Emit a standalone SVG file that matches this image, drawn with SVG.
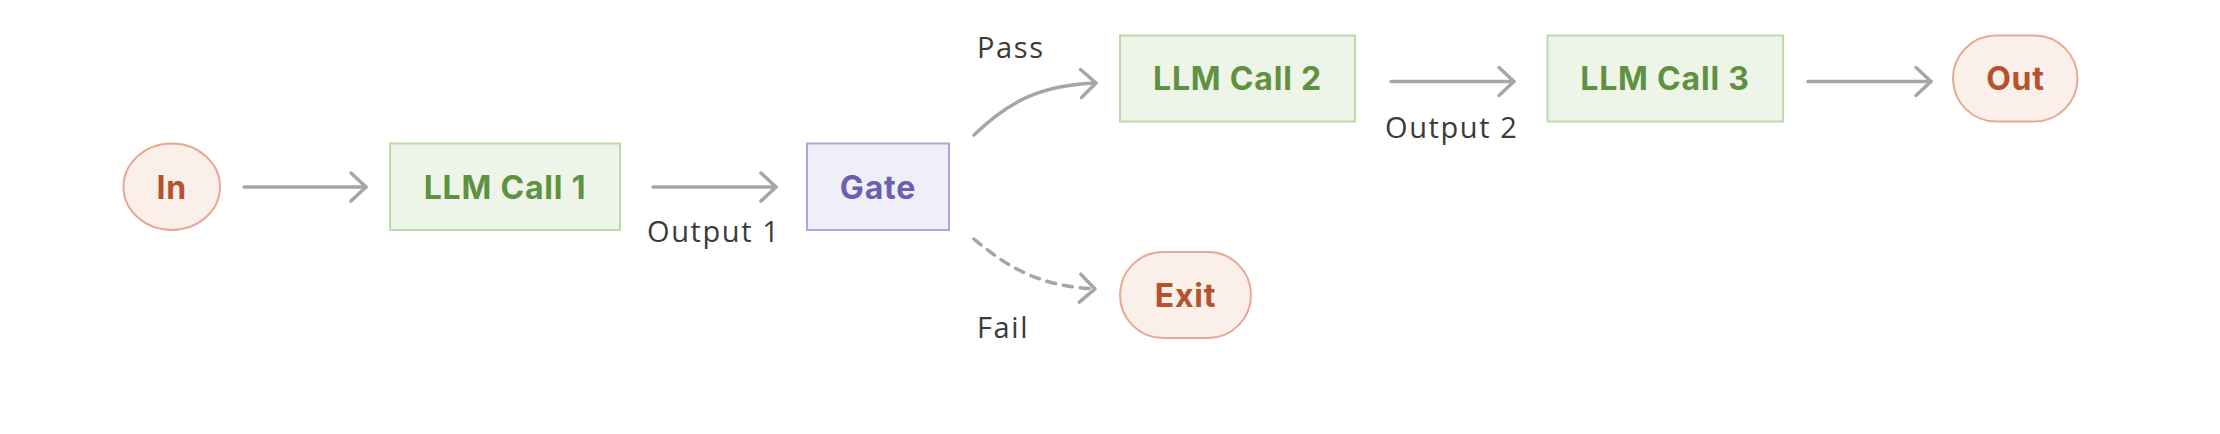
<svg xmlns="http://www.w3.org/2000/svg" width="2220" height="434" viewBox="0 0 2220 434">
<defs>
<style>
.term rect{fill:#faefe9;stroke:#e5aa91;stroke-width:2}
.term text{fill:#b4532d}
.llm rect{fill:#eef5e8;stroke:#bcdca7;stroke-width:2}
.llm text{fill:#5e9140}
.gate rect{fill:#f0eff9;stroke:#aea5df;stroke-width:2}
.gate text{fill:#6a5fb0}
.node text{font-family:Inter,"Liberation Sans",sans-serif;font-weight:700;font-size:32px;letter-spacing:0.8px;text-anchor:middle}
.lbl{font-family:"Open Sans","Liberation Sans",sans-serif;font-size:29px;fill:#3b3b38;letter-spacing:1.6px}
.edge{fill:none;stroke:#a6a6a3;stroke-width:3.5;stroke-linecap:round}
.dash{stroke-dasharray:9 8}
</style>
<marker id="ah" markerUnits="userSpaceOnUse" markerWidth="40" markerHeight="40" viewBox="-20 -20 40 40" refX="0" refY="0" orient="auto" overflow="visible">
<path d="M-15,-14 L0,0 L-15,14" fill="none" stroke="#a6a6a3" stroke-width="3.5" stroke-linecap="round" stroke-linejoin="round"/>
</marker>
</defs>
<rect width="2220" height="434" fill="#ffffff"/>
<g id="connectors">
<path class="edge" d="M244,187 H366" marker-end="url(#ah)"/>
<path class="edge" d="M653,187 H776" marker-end="url(#ah)"/>
<path class="edge" d="M974,135 C1008,102 1040,85 1096,83" marker-end="url(#ah)"/>
<path class="edge dash" d="M974,239 C1008,268 1040,286 1095,289" marker-end="url(#ah)"/>
<path class="edge" d="M1391,81.5 H1514" marker-end="url(#ah)"/>
<path class="edge" d="M1808,81.5 H1931" marker-end="url(#ah)"/>
<text class="lbl" x="647" y="241.5">Output 1</text>
<text class="lbl" x="977" y="57.5">Pass</text>
<text class="lbl" x="977" y="338">Fail</text>
<text class="lbl" x="1385" y="137.5">Output 2</text>
</g>
<g id="in" class="node term">
<rect x="123.5" y="143.5" width="96.5" height="86.5" rx="48.25" ry="43.25"/>
<text x="171.75" y="198.5">In</text>
</g>
<g id="llm1" class="node llm">
<rect x="390" y="143.5" width="230" height="86.5"/>
<text x="505" y="198.5">LLM Call 1</text>
</g>
<g id="gate" class="node gate">
<rect x="807" y="143.5" width="142" height="86.5"/>
<text x="878" y="198.5">Gate</text>
</g>
<g id="llm2" class="node llm">
<rect x="1120" y="35.5" width="235" height="86"/>
<text x="1237.5" y="90">LLM Call 2</text>
</g>
<g id="llm3" class="node llm">
<rect x="1547.5" y="35.5" width="235.5" height="86"/>
<text x="1665" y="90">LLM Call 3</text>
</g>
<g id="out" class="node term">
<rect x="1953" y="35.5" width="124.5" height="86" rx="43"/>
<text x="2015.5" y="90">Out</text>
</g>
<g id="exit" class="node term">
<rect x="1120" y="252" width="131" height="86" rx="43"/>
<text x="1185.5" y="306.5">Exit</text>
</g>
</svg>
